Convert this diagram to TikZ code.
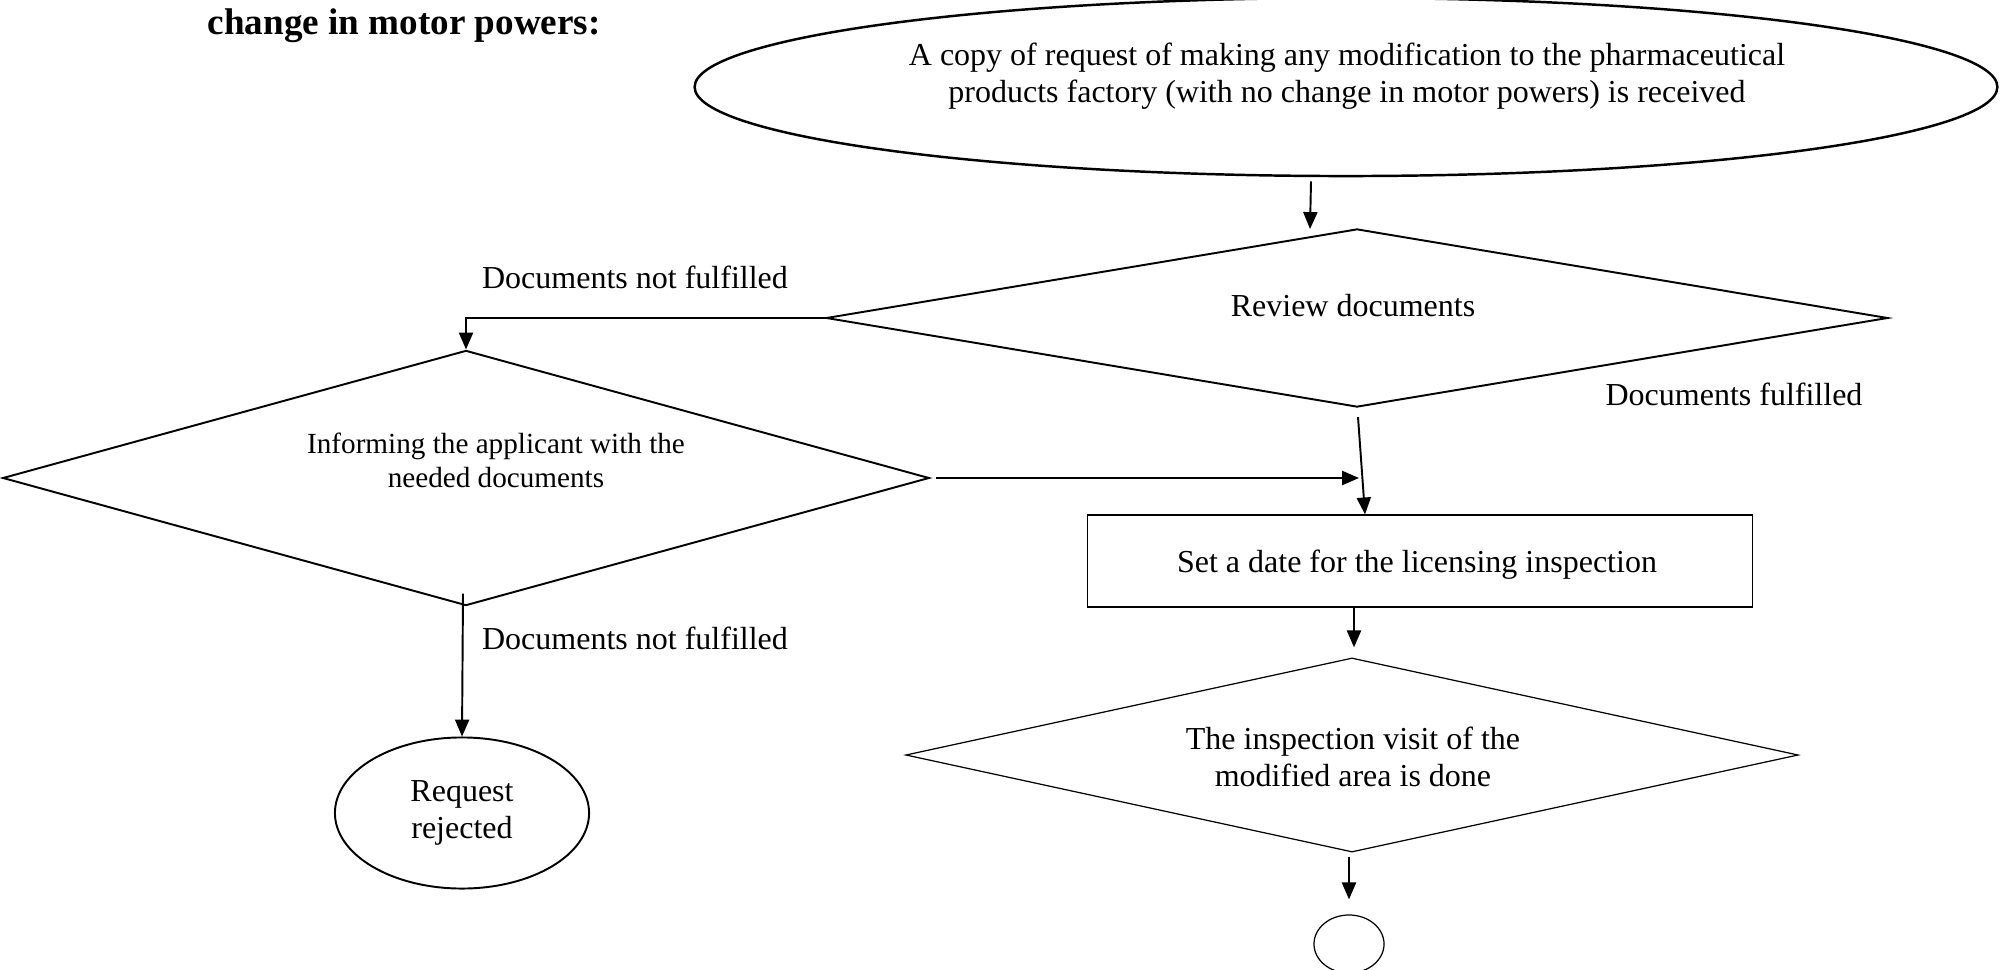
\documentclass[tikz,border=0pt]{standalone}
\usepackage{fontspec}
\setmainfont{Liberation Serif}
\usetikzlibrary{shapes.geometric,arrows.meta,calc}
\begin{document}
\begin{tikzpicture}[x=0.01cm,y=-0.01cm,
  txt/.style={font=\fontsize{9.1pt}{10.4pt}\selectfont, align=center, inner sep=0pt},
  txtsmall/.style={font=\fontsize{8.3pt}{9.7pt}\selectfont, align=center, inner sep=0pt},
  thick line/.style={line width=0.55pt},
  thin line/.style={line width=0.35pt},
  conn/.style={line width=0.55pt, -{Triangle[length=4.8pt,width=4pt]}},
  decision/.style={diamond, draw, inner sep=0pt},
  terminal/.style={ellipse, draw, inner sep=0pt}]
\useasboundingbox (0,0) rectangle (2000,970);

% title
\node[font=\fontsize{10.56pt}{12pt}\selectfont\bfseries, anchor=base west, inner sep=0pt] (title) at (207,35) {change in motor powers:};

% start ellipse
\node[terminal, line width=0.7pt, minimum width=130.2mm, minimum height=17.8mm] (req) at (1346,87) {};
\node[txt] (reqt) at (1347,76) {A copy of request of making any modification to the pharmaceutical\\products factory (with no change in motor powers) is received};

% review diamond
\node[decision, thick line, minimum width=106.1mm, minimum height=17.8mm] (rev) at (1357,318) {};
\node[txt] (revt) at (1353,306) {Review documents};

% informing diamond
\node[decision, thick line, minimum width=92.6mm, minimum height=25.5mm] (inf) at (466,478) {};
\node[txtsmall] (inft) at (496,460) {Informing the applicant with the\\needed documents};

% date rectangle
\node[draw, thin line, minimum width=66.5mm, minimum height=9.2mm] (date) at (1420,561) {};
\node[txt] (datet) at (1417,565) {Set a date for the licensing inspection};

% inspection diamond
\node[decision, thin line, minimum width=89.2mm, minimum height=19.4mm] (ins) at (1352,755) {};
\node[txt] (inst) at (1353,757) {The inspection visit of the\\modified area is done};

% end circle
\node[terminal, thin line, minimum width=7mm, minimum height=5.8mm] (endc) at (1349,944) {};

% rejected
\node[terminal, thick line, txt, minimum width=25.4mm, minimum height=15.1mm] (rej) at (462,813) {Request\\rejected};

% labels
\node[txt] (lab1) at (635,277) {Documents not fulfilled};
\node[txt] (lab2) at (1734,394) {Documents fulfilled};
\node[txt] (lab3) at (635,638) {Documents not fulfilled};

% connectors
\draw[conn] ($(req.south)+(-35,4)$) -- ($(rev.north)+(-47,1)$);
\draw[conn] (rev.west) -| (inf.north);
\draw[conn] ($(inf.east)+(6,0)$) -- ($(inf.east -| rev.south)+(2,0)$);
\draw[conn] ($(rev.south)+(1,9)$) -- ($(date.north)+(-55,0)$);
\draw[conn] ($(date.south)+(-66,0)$) -- ($(ins.north)+(2,-10)$);
\draw[conn] ($(ins.south)+(-3,4)$) -- ($(endc.north)+(0,-15)$);
\draw[conn] ($(inf.south)+(-3,-13)$) -- (rej.north);
\end{tikzpicture}
\end{document}
